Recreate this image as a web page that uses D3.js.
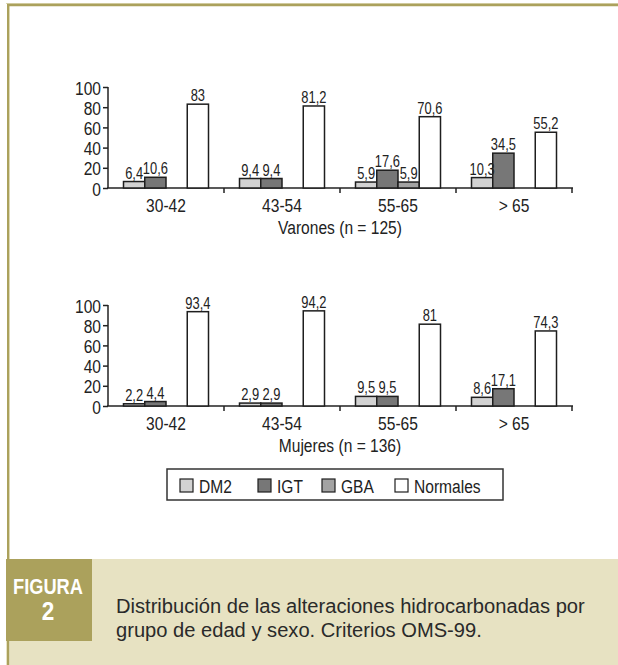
<!DOCTYPE html>
<html>
<head>
<meta charset="utf-8">
<script src="https://cdn.jsdelivr.net/npm/d3@7"></script>
<style>
  body { margin: 0; background: #fff; }
  svg text { font-family: "Liberation Sans", Arial, sans-serif; fill: #222; }
</style>
</head>
<body>
<svg id="fig" width="618" height="665"></svg>
<script>
// age groups and series
const groups = ["30-42", "43-54", "55-65", "> 65"];
const series = ["DM2", "IGT", "GBA", "Normales"];
const colors = ["#d2d2d2", "#777777", "#a3a3a3", "#ffffff"];
const yTicks = [0, 20, 40, 60, 80, 100];

// values per group, in series order (null = no bar)
const varones = [
    [6.4, 10.6, null, 83],
    [9.4, 9.4, null, 81.2],
    [5.9, 17.6, 5.9, 70.6],
    [10.3, 34.5, null, 55.2]
];
const mujeres = [
    [2.2, 4.4, null, 93.4],
    [2.9, 2.9, null, 94.2],
    [9.5, 9.5, null, 81],
    [8.6, 17.1, null, 74.3]
];

const svg = d3.select("#fig");
const fmt = v => String(v).replace(".", ",");
const K = 0.82; // condensed look

// squeeze text horizontally around its anchor point
function narrow(sel, k){
    sel.each(function(){
        let t = d3.select(this);
        let x = +t.attr("x") || 0, y = +t.attr("y") || 0;
        t.attr("x", 0).attr("y", 0).attr("transform", `translate(${x},${y}) scale(${k},1)`);
    });
    return sel;
}
// squeeze text so it spans a given width
function fitWidth(sel, w){
    sel.each(function(){
        let len = this.getComputedTextLength();
        narrow(d3.select(this), w / len);
    });
}

// frame
const olive = "#aba15c";
svg.append("rect").attr("x", 6).attr("y", 559).attr("width", 612).attr("height", 106).attr("fill", "#e7e2c2");
svg.append("line").attr("x1", 6).attr("x2", 618).attr("y1", 3.5).attr("y2", 3.5).attr("stroke", "#dcd8b4").attr("stroke-width", 1);
svg.append("line").attr("x1", 9.5).attr("x2", 9.5).attr("y1", 6).attr("y2", 665).attr("stroke", "#dcd8b4").attr("stroke-width", 1);
svg.append("line").attr("x1", 7).attr("x2", 618).attr("y1", 5).attr("y2", 5).attr("stroke", olive).attr("stroke-width", 2.5);
svg.append("line").attr("x1", 8).attr("x2", 8).attr("y1", 4).attr("y2", 665).attr("stroke", olive).attr("stroke-width", 2);
svg.append("rect").attr("x", 6).attr("y", 559).attr("width", 86).attr("height", 82).attr("fill", olive);

fitWidth(svg.append("text").attr("x", 48).attr("y", 594).attr("text-anchor", "middle")
    .style("font-weight", "bold").style("font-size", "22px").style("fill", "#fff").text("FIGURA"), 70);
narrow(svg.append("text").attr("x", 48).attr("y", 620).attr("text-anchor", "middle")
    .style("font-weight", "bold").style("font-size", "25px").style("fill", "#fff").text("2"), 0.9);

const caption = ["Distribución de las alteraciones hidrocarbonadas por", "grupo de edad y sexo. Criterios OMS-99."];
let capText = svg.selectAll(".cap").data(caption).enter().append("text").attr("class", "cap")
    .attr("x", 116).attr("y", (d, i) => 613 + i * 24)
    .style("font-size", "21px").style("fill", "#2a2a2a").text(d => d);
let capK = 469 / capText.node().getComputedTextLength();
narrow(capText, capK);

function drawPanel(data, y0, title){
    let x0 = d3.scaleBand().domain(groups).range([108, 572]);
    let x1 = d3.scaleBand().domain(series).range([15.5, 100.5]);
    let y = d3.scaleLinear().domain([0, 100]).range([y0, y0 - 101]);

    let g = svg.append("g");

    // y axis
    let ya = g.append("g").attr("transform", "translate(108,0)")
        .call(d3.axisLeft(y).tickValues(yTicks).tickSize(5).tickPadding(2));
    ya.select(".domain").attr("stroke", "#222").attr("stroke-width", 1.5).attr("d", `M0,${y0}V${y0 - 101}`);
    ya.selectAll(".tick line").attr("stroke", "#222").attr("stroke-width", 1.5);
    let tt = ya.selectAll(".tick text").style("font-size", "19px").attr("fill", "#222")
        .attr("dy", null).attr("y", 7);
    ya.attr("font-family", null);
    narrow(tt, K);

    // x axis
    g.append("line").attr("x1", 107).attr("x2", 573).attr("y1", y0).attr("y2", y0)
        .attr("stroke", "#222").attr("stroke-width", 1.5);
    g.selectAll(".sep").data(groups).enter().append("line")
        .attr("x1", d => x0(d) + x0.bandwidth())
        .attr("x2", d => x0(d) + x0.bandwidth())
        .attr("y1", y0).attr("y2", y0 + 5).attr("stroke", "#222").attr("stroke-width", 1.5);
    narrow(g.selectAll(".cat").data(groups).enter().append("text")
        .attr("x", d => x0(d) + x0.bandwidth() / 2).attr("y", y0 + 24)
        .attr("text-anchor", "middle").style("font-size", "19px").text(d => d), K);
    narrow(g.append("text").attr("x", 340).attr("y", y0 + 46).attr("text-anchor", "middle")
        .style("font-size", "19px").text(title), K);

    // bars
    let cells = [];
    data.forEach((row, gi) => row.forEach((v, si) => {
        if(v != null) cells.push({group: groups[gi], s: series[si], si: si, v: v});
    }));
    g.selectAll(".bar").data(cells).enter().append("rect")
        .attr("x", d => x0(d.group) + x1(d.s)).attr("width", x1.bandwidth())
        .attr("y", d => y(d.v)).attr("height", d => y0 - y(d.v))
        .attr("fill", d => colors[d.si]).attr("stroke", "#1e1e1e").attr("stroke-width", 1.5);
    narrow(g.selectAll(".lbl").data(cells).enter().append("text")
        .attr("x", d => x0(d.group) + x1(d.s) + x1.bandwidth() / 2).attr("y", d => y(d.v) - 3)
        .attr("text-anchor", "middle").style("font-size", "17px").text(d => fmt(d.v)), 0.76);
}

drawPanel(varones, 188, "Varones (n = 125)");
drawPanel(mujeres, 406, "Mujeres (n = 136)");

// legend
let lg = svg.append("g");
lg.append("rect").attr("x", 167).attr("y", 469).attr("width", 336).attr("height", 31)
    .attr("fill", "#fff").attr("stroke", "#333").attr("stroke-width", 1.5);
const legX = [180, 258, 322, 395];
let items = lg.selectAll(".item").data(series).enter().append("g")
    .attr("transform", (d, i) => `translate(${legX[i]},479)`);
items.append("rect").attr("width", 13).attr("height", 13)
    .attr("fill", (d, i) => colors[i]).attr("stroke", "#1e1e1e").attr("stroke-width", 1.2);
narrow(items.append("text").attr("x", 19).attr("y", 14).style("font-size", "19px").text(d => d), K);
</script>
</body>
</html>
